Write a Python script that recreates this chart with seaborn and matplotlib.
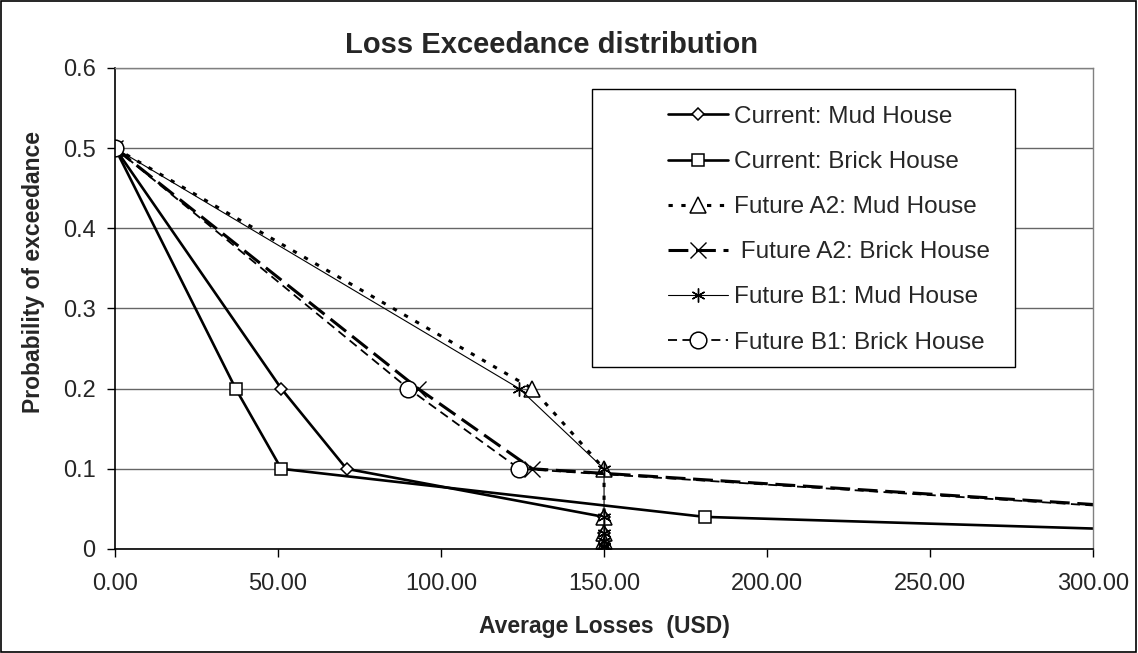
import matplotlib
matplotlib.use("Agg")
import matplotlib.pyplot as plt
import matplotlib.patches as mpatches
import pandas as pd
import seaborn as sns

# exceedance probabilities shared by every series
probabilities = [0.5, 0.2, 0.1, 0.04, 0.02, 0.01, 0.004, 0.002]

current_mud_losses = [0, 51, 71, 150, 150, 150, 150, 150]
current_brick_losses = [0, 37, 51, 181, 345, 520, 700, 850]
future_a2_mud_losses = [0, 128, 150, 150, 150, 150, 150, 150]
future_a2_brick_losses = [0, 93, 128, 360, 520, 700, 850, 950]
future_b1_mud_losses = [0, 124, 150, 150, 150, 150, 150, 150]
future_b1_brick_losses = [0, 90, 124, 355, 520, 700, 850, 950]

series_labels = [
    "Current: Mud House",
    "Current: Brick House",
    "Future A2: Mud House",
    " Future A2: Brick House",
    "Future B1: Mud House",
    "Future B1: Brick House",
]

x_ticks = [0, 50, 100, 150, 200, 250, 300]
y_ticks = [0, 0.1, 0.2, 0.3, 0.4, 0.5, 0.6]
y_tick_labels = ["0", "0.1", "0.2", "0.3", "0.4", "0.5", "0.6"]


def main() -> None:
    sns.set_theme(style="white")
    plt.rcParams["font.family"] = ["Liberation Sans", "DejaVu Sans"]

    fig = plt.figure(figsize=(11.38, 6.53), dpi=100)
    ax = fig.add_axes([0.1011, 0.1593, 0.8594, 0.7366])

    losses = [
        current_mud_losses,
        current_brick_losses,
        future_a2_mud_losses,
        future_a2_brick_losses,
        future_b1_mud_losses,
        future_b1_brick_losses,
    ]
    styles = [
        dict(linestyle="-", linewidth=1.9, marker="D", markersize=6.5),
        dict(linestyle="-", linewidth=1.9, marker="s", markersize=9),
        dict(linestyle=(0, (1.4, 2.8)), linewidth=2.2, marker="^", markersize=12),
        dict(linestyle=(0, (6.5, 2.5)), linewidth=2.2, marker="x", markersize=11, markeredgewidth=1.0),
        dict(linestyle="-", linewidth=0.8, marker=(6, 2, 0), markersize=10, markeredgewidth=1.0),
        dict(linestyle=(0, (5, 3)), linewidth=1.3, marker="o", markersize=12),
    ]

    for label, xs, style in zip(series_labels, losses, styles):
        df = pd.DataFrame({"loss": xs, "prob": probabilities})
        style.setdefault("markeredgewidth", 1.1)
        sns.lineplot(
            data=df, x="loss", y="prob", ax=ax,
            estimator=None, sort=False, color="black",
            markerfacecolor="white", markeredgecolor="black",
            label=label, legend=False, **style,
        )

    ax.set_xlim(0, 300)
    ax.set_ylim(0, 0.6)
    ax.set_xticks(x_ticks)
    ax.set_xticklabels([f"{v:.2f}" for v in x_ticks])
    ax.set_yticks(y_ticks)
    ax.set_yticklabels(y_tick_labels)
    ax.tick_params(axis="both", labelsize=17, direction="out", length=6, width=1,
                   color="black", left=True, bottom=True)
    ax.tick_params(axis="x", pad=11)
    ax.tick_params(axis="y", pad=8)
    ax.yaxis.grid(True, color="#666666", linewidth=1)
    ax.xaxis.grid(False)
    ax.set_axisbelow(True)

    for side in ["left", "bottom"]:
        ax.spines[side].set_color("black")
        ax.spines[side].set_linewidth(1.2)
    for side in ["top", "right"]:
        ax.spines[side].set_color("#808080")
        ax.spines[side].set_linewidth(1)

    ax.set_xlabel("Average Losses  (USD)", fontsize=16.5, fontweight="bold", va="center")
    ax.xaxis.set_label_coords(0.5, -0.162)
    ax.set_ylabel("Probability of exceedance", fontsize=16.5, fontweight="bold", va="center")
    ax.yaxis.set_label_coords(-0.0838, 0.576)
    fig.text(0.485, 0.931, "Loss Exceedance distribution",
             ha="center", va="center", fontsize=21, fontweight="bold")

    # legend frame drawn like the spreadsheet box
    ax.add_patch(mpatches.Rectangle((0.4877, 0.378), 0.4325, 0.578, transform=ax.transAxes,
                                    facecolor="white", edgecolor="black", linewidth=1, zorder=5))
    leg = ax.legend(loc="upper left", bbox_to_anchor=(0.5654, 0.921), frameon=False,
                    fontsize=17.5, handlelength=2.45, handletextpad=0.25, labelspacing=0.95,
                    borderpad=0, borderaxespad=0, numpoints=1)
    leg.set_zorder(6)

    fig.add_artist(mpatches.Rectangle((0.001, 0.001), 0.997, 0.997, transform=fig.transFigure,
                                      fill=False, edgecolor="black", linewidth=1.2))

    fig.savefig("out.png", dpi=100, facecolor="white")


if __name__ == "__main__":
    main()
